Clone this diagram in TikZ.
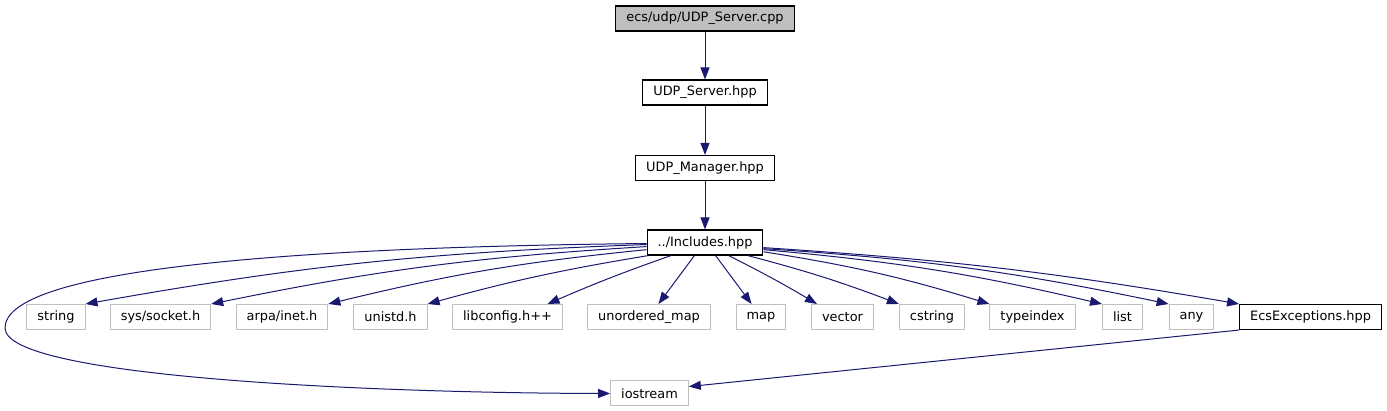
\documentclass[tikz,border=0pt]{standalone}
\usepackage{fontspec}
\setmainfont{DejaVu Sans}
\usetikzlibrary{arrows.meta}

\definecolor{edgeblue}{HTML}{191970}
\definecolor{boxgrey}{HTML}{BFBFBF}

\begin{document}
\begin{tikzpicture}[
    x=1pt, y=-1pt,
    every node/.style={rectangle,inner xsep=10.5pt,inner ysep=0pt,minimum height=25pt,
      font=\fontsize{12.9}{15}\selectfont},
    file/.style={draw=black,line width=1.1pt,fill=white},
    sysfile/.style={draw=boxgrey,line width=1pt,fill=white},
    dep/.style={draw=edgeblue,line width=1pt,-{Triangle[length=12pt,width=9pt]}}
  ]
    \useasboundingbox (0,0) rectangle (1387,411);
    \node[file,fill=boxgrey] (cpp) at (705,18.5) {ecs/udp/UDP\_Server.cpp};
    \node[file] (server) at (705,92.5) {UDP\_Server.hpp};
    \node[file] (manager) at (705,168) {UDP\_Manager.hpp};
    \node[file] (includes) at (705,242.5) {../Includes.hpp};
    \node[sysfile] (string) at (56,317) {string};
    \node[sysfile] (socket) at (160.5,317) {sys/socket.h};
    \node[sysfile] (inet) at (282,317) {arpa/inet.h};
    \node[sysfile] (unistd) at (390.5,317) {unistd.h};
    \node[sysfile] (libconfig) at (507.5,317) {libconfig.h++};
    \node[sysfile] (umap) at (649,317) {unordered\_map};
    \node[sysfile] (map) at (761,317) {map};
    \node[sysfile] (vector) at (842.5,317) {vector};
    \node[sysfile] (cstring) at (932,317) {cstring};
    \node[sysfile] (typeindex) at (1032.5,317) {typeindex};
    \node[sysfile] (list) at (1122.5,317) {list};
    \node[sysfile] (any) at (1191.5,317) {any};
    \node[file] (ecsexc) at (1310.5,317) {EcsExceptions.hpp};
    \node[sysfile] (iostream) at (649.5,393.5) {iostream};
    \draw[dep] (cpp) -- (server);
    \draw[dep] (server) -- (manager);
    \draw[dep] (manager) -- (includes);
    % left side of Includes.hpp
    \draw[dep] (includes.181) .. controls (300,247) and (5,268) .. (5,328)
      .. controls (5,378) and (380,393) .. (iostream.west);
    \draw[dep] (includes.182) to[bend right=4] (string.north east);
    \draw[dep] (includes.184) to[bend right=4] (socket.north east);
    \draw[dep] (includes.187) to[bend right=4] (inet.north east);
    \draw[dep] (includes.193) to[bend right=3] (unistd.north east);
    \draw[dep] (includes.201) to[bend right=2] (libconfig.18);
    \draw[dep] (includes.231) -- (umap.54);
    % right side of Includes.hpp
    \draw[dep] (includes.309) -- (map.126);
    \draw[dep] (includes.331) to[bend left=2] (vector.153);
    \draw[dep] (includes.343) to[bend left=3] (cstring.north west);
    \draw[dep] (includes.351) to[bend left=4] (typeindex.north west);
    \draw[dep] (includes.353) to[bend left=4] (list.north west);
    \draw[dep] (includes.354) to[bend left=4] (any.north west);
    \draw[dep] (includes.355) to[bend left=3] (ecsexc.north west);
    \draw[dep] (ecsexc.south west) -- (iostream.10);
  \end{tikzpicture}
\end{document}
